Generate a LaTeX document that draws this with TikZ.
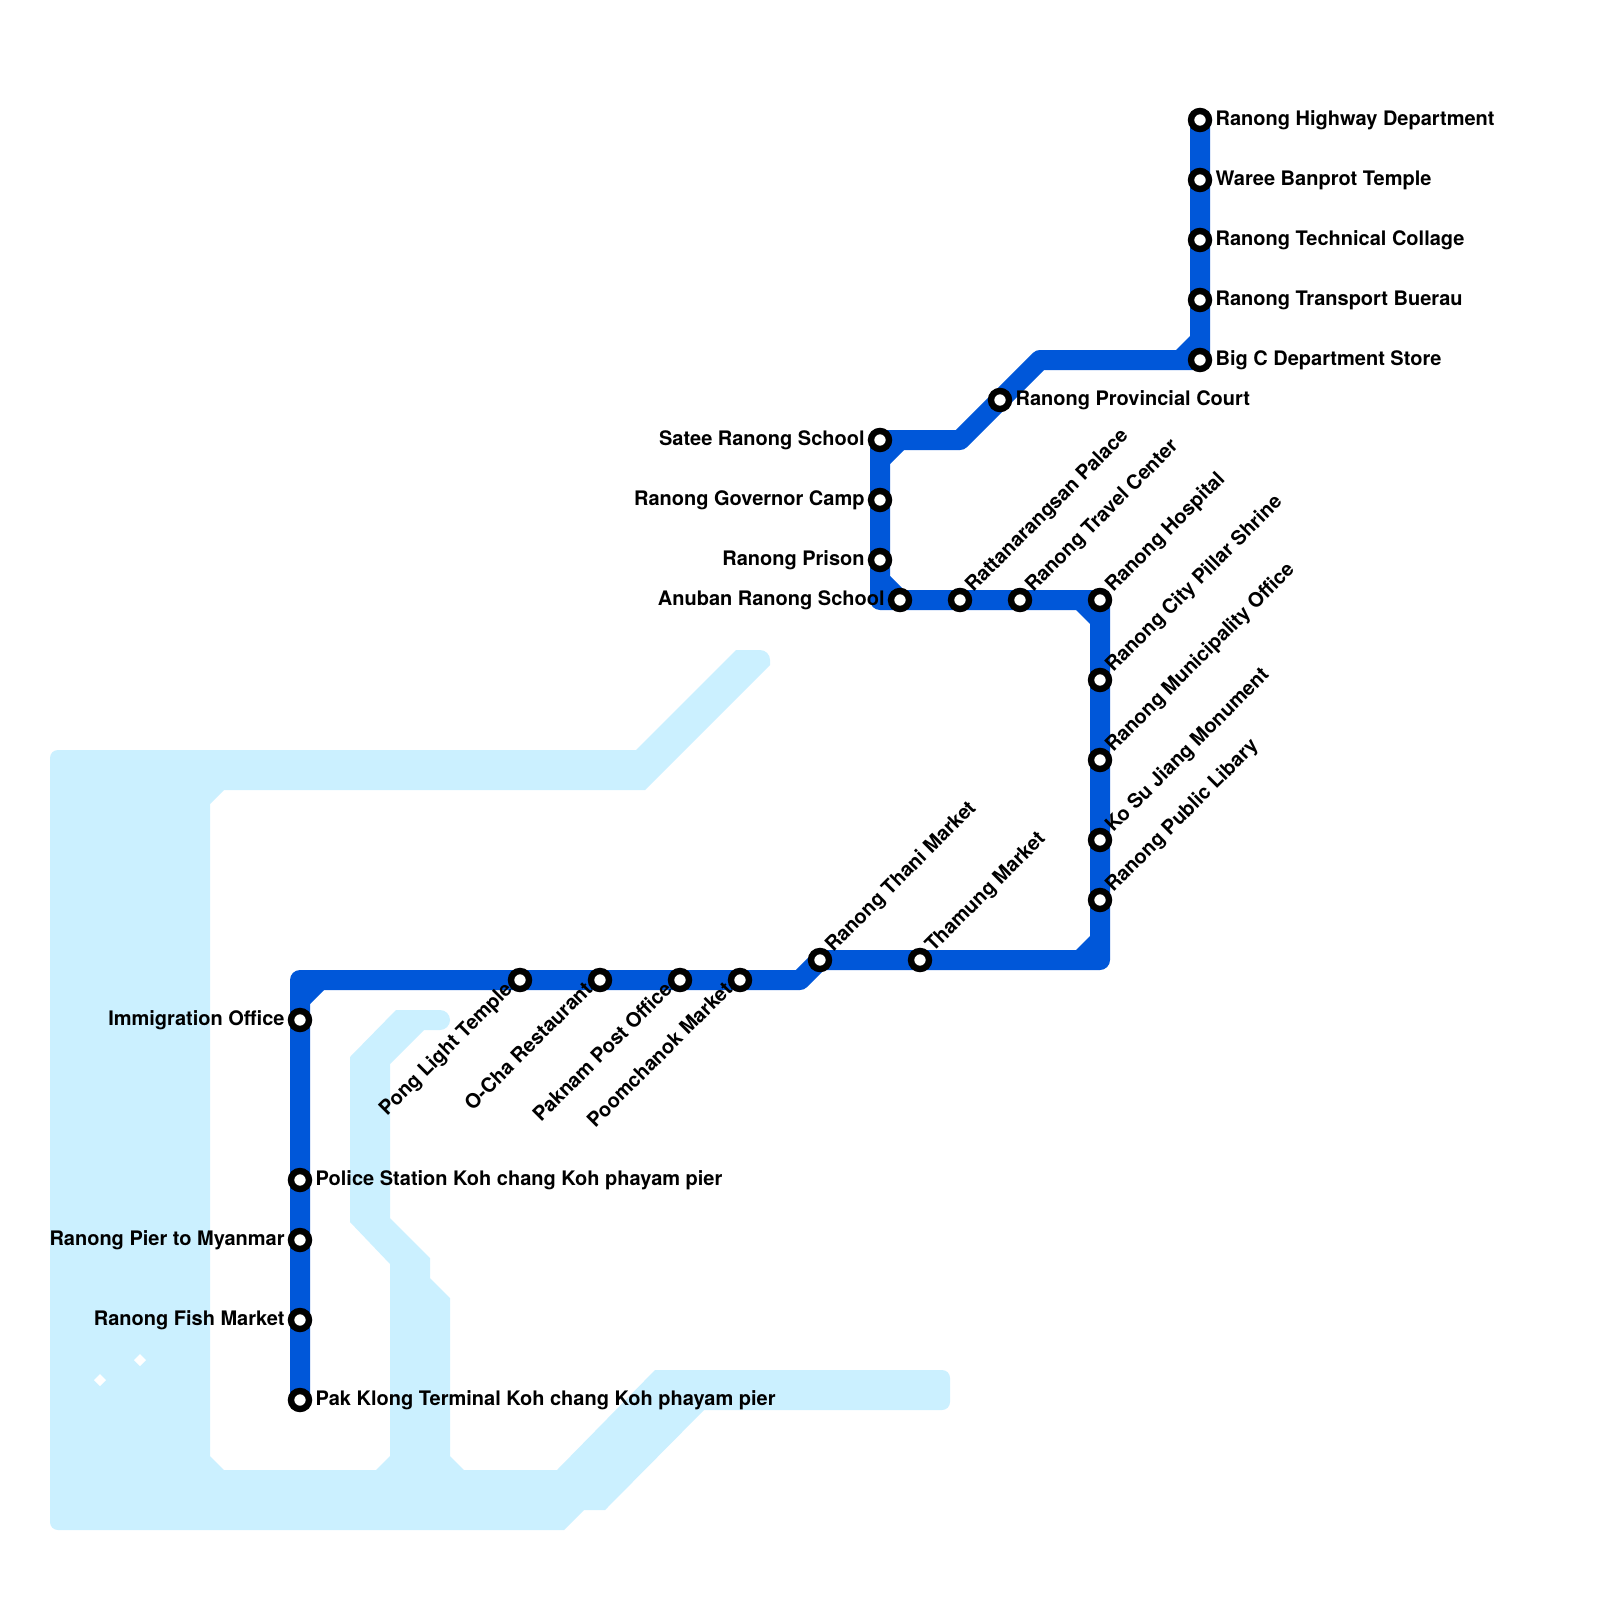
\documentclass[tikz,border=0pt]{standalone}
\usepackage{fontspec}
\setmainfont{TeX Gyre Heros}
\definecolor{water}{HTML}{CBF0FF}
\definecolor{metro}{HTML}{0057D9}
\tikzset{
  stn/.style={circle,draw=black,fill=white,line width=3.2pt,outer sep=0pt,minimum size=9pt,inner sep=0pt},
  lbl/.style={font=\fontsize{10pt}{11pt}\selectfont\bfseries,text=black,inner sep=0pt},
  lblR/.style={lbl,anchor=base west,xshift=7.6pt,yshift=-2.75pt},
  lblL/.style={lbl,anchor=base east,xshift=-7.5pt,yshift=-2.75pt},
  lblUp/.style={lbl,anchor=base west,xshift=6.5pt,yshift=3.45pt,rotate=45},
  lblDn/.style={lbl,anchor=base east,xshift=-3.25pt,yshift=-5.2pt,rotate=45},
  metroline/.style={draw=metro,line width=10pt,line join=round},
  bevel/.style={fill=metro},
}
\begin{document}
\begin{tikzpicture}[x=0.5pt,y=-0.5pt]
\useasboundingbox (0,0) rectangle (1600,1600);
\fill[white] (0,0) rectangle (1600,1600);
% water
\fill[water,rounded corners=4pt]
  (50,1530) -- (50,750) [sharp corners] -- (636,750) -- (736,650)
  [rounded corners=5pt] -- (770,650) [sharp corners] -- (770,665) -- (645,790) -- (224,790) -- (210,804)
  -- (210,1456) -- (224,1470) -- (376,1470) -- (390,1456) -- (390,1264) -- (350,1222) -- (350,1057) -- (396,1010)
  [rounded corners=5pt] -- (450,1010) -- (450,1030) [sharp corners] -- (424,1030) -- (390,1064) -- (390,1218) -- (430,1258) -- (430,1278)
  -- (450,1298) -- (450,1456) -- (464,1470) -- (557,1470) -- (655,1370)
  [rounded corners=4pt] -- (950,1370) -- (950,1410) [sharp corners] -- (704,1410) -- (605,1510) -- (584,1510) -- (564,1530)
  [rounded corners=4pt] -- cycle;
\fill[white] (100,1374) -- (106,1380) -- (100,1386) -- (94,1380) -- cycle;
\fill[white] (140,1354) -- (146,1360) -- (140,1366) -- (134,1360) -- cycle;
% corners of the line
\coordinate (c1) at (300,980);
\coordinate (c2) at (800,980);
\coordinate (c3) at (820,960);
\coordinate (c4) at (1100,960);
\coordinate (c5) at (1100,600);
\coordinate (c6) at (880,600);
\coordinate (c7) at (880,440);
\coordinate (c8) at (960,440);
\coordinate (c9) at (1040,360);
\coordinate (c10) at (1200,360);
\coordinate (c11) at (1200,120);
\coordinate (c12) at (300,1400);
\draw[metroline] (c12) -- (c1) -- (c2) -- (c3) -- (c4) -- (c5) -- (c6) -- (c7) -- (c8) -- (c9) -- (c10) -- (c11);
\fill[bevel] (310,1004) -- (310,990) -- (324,990) -- cycle;
\fill[bevel] (1076,950) -- (1090,950) -- (1090,936) -- cycle;
\fill[bevel] (1076,610) -- (1090,610) -- (1090,624) -- cycle;
\fill[bevel] (890,576) -- (890,590) -- (904,590) -- cycle;
\fill[bevel] (904,450) -- (890,450) -- (890,464) -- cycle;
\fill[bevel] (1176,350) -- (1190,350) -- (1190,336) -- cycle;
% stations
\node[stn] (a1) at (300,1020) {};
\node[stn] (a2) at (300,1180) {};
\node[stn] (a3) at (300,1240) {};
\node[stn] (a4) at (300,1320) {};
\node[stn] (a5) at (300,1400) {};
\node[stn] (b1) at (520,980) {};
\node[stn] (b2) at (600,980) {};
\node[stn] (b3) at (680,980) {};
\node[stn] (b4) at (740,980) {};
\node[stn] (d1) at (820,960) {};
\node[stn] (d2) at (920,960) {};
\node[stn] (e1) at (1100,900) {};
\node[stn] (e2) at (1100,840) {};
\node[stn] (e3) at (1100,760) {};
\node[stn] (e4) at (1100,680) {};
\node[stn] (e5) at (1100,600) {};
\node[stn] (f1) at (1020,600) {};
\node[stn] (f2) at (960,600) {};
\node[stn] (f3) at (900,600) {};
\node[stn] (g1) at (880,560) {};
\node[stn] (g2) at (880,500) {};
\node[stn] (g3) at (880,440) {};
\node[stn] (h1) at (1000,400) {};
\node[stn] (i1) at (1200,360) {};
\node[stn] (i2) at (1200,300) {};
\node[stn] (i3) at (1200,240) {};
\node[stn] (i4) at (1200,180) {};
\node[stn] (i5) at (1200,120) {};
% labels
\node[lblL] (ta1) at (a1) {Immigration Office};
\node[lblR] (ta2) at (a2) {Police Station Koh chang Koh phayam pier};
\node[lblL] (ta3) at (a3) {Ranong Pier to Myanmar};
\node[lblL] (ta4) at (a4) {Ranong Fish Market};
\node[lblR] (ta5) at (a5) {Pak Klong Terminal Koh chang Koh phayam pier};
\node[lblDn] (tb1) at (b1) {Pong Light Temple};
\node[lblDn] (tb2) at (b2) {O-Cha Restaurant};
\node[lblDn] (tb3) at (b3) {Paknam Post Office};
\node[lblDn] (tb4) at (b4) {Poomchanok Market};
\node[lblUp] (td1) at (d1) {Ranong Thani Market};
\node[lblUp] (td2) at (d2) {Thamung Market};
\node[lblUp] (te1) at (e1) {Ranong Public Libary};
\node[lblUp] (te2) at (e2) {Ko Su Jiang Monument};
\node[lblUp] (te3) at (e3) {Ranong Municipality Office};
\node[lblUp] (te4) at (e4) {Ranong City Pillar Shrine};
\node[lblUp] (te5) at (e5) {Ranong Hospital};
\node[lblUp] (tf1) at (f1) {Ranong Travel Center};
\node[lblUp] (tf2) at (f2) {Rattanarangsan Palace};
\node[lblL] (tf3) at (f3) {Anuban Ranong School};
\node[lblL] (tg1) at (g1) {Ranong Prison};
\node[lblL] (tg2) at (g2) {Ranong Governor Camp};
\node[lblL] (tg3) at (g3) {Satee Ranong School};
\node[lblR] (th1) at (h1) {Ranong Provincial Court};
\node[lblR] (ti1) at (i1) {Big C Department Store};
\node[lblR] (ti2) at (i2) {Ranong Transport Buerau};
\node[lblR] (ti3) at (i3) {Ranong Technical Collage};
\node[lblR] (ti4) at (i4) {Waree Banprot Temple};
\node[lblR] (ti5) at (i5) {Ranong Highway Department};
\end{tikzpicture}
\end{document}
